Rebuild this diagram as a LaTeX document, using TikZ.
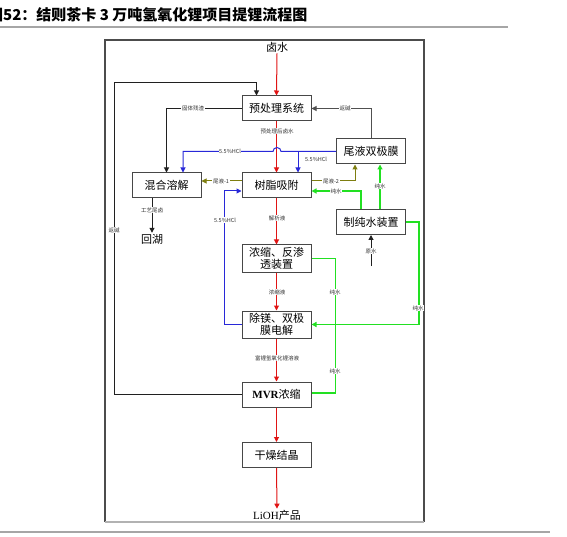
\documentclass[tikz,border=0pt]{standalone}
\usepackage{fontspec}
\setmainfont{Noto Sans CJK SC}
\newfontfamily\tnr{Liberation Serif}
\usetikzlibrary{arrows.meta}
\definecolor{cred}{HTML}{E01414}
\definecolor{cbl}{HTML}{2828D8}
\definecolor{cgr}{HTML}{22E022}
\definecolor{col}{HTML}{7E7E10}
\definecolor{cgy}{HTML}{505050}
\definecolor{cblk}{HTML}{202020}
\begin{document}
\begin{tikzpicture}[x=1pt,y=-1pt,
  box/.style={draw=black!72,line width=1pt,fill=white,minimum width=69pt,minimum height=25pt,
    font=\fontsize{11}{12.5}\selectfont,inner sep=1pt,align=center},
  txt/.style={font=\fontsize{11}{12}\selectfont,inner sep=1pt},
  lbl/.style={font=\fontsize{5.5}{6}\selectfont,fill=white,inner sep=0.6pt,text=black!80},
  arr/.style={line width=1pt,-{Triangle[length=5pt,width=5pt]}},
  garr/.style={line width=1.3pt,-{Triangle[length=5pt,width=5pt]}},
  ln/.style={line width=1.3pt}]
\useasboundingbox (0,0) rectangle (567,537);
% title and frame
\node[anchor=west,font=\bfseries\fontsize{15}{15}\selectfont,inner sep=0] (title) at (-12,15) {图52：结则茶卡 3 万吨氢氧化锂项目提锂流程图};
\draw[gray!70,line width=1.2pt] (0,27) -- (508,27);
\draw[black!70,line width=1.5pt] (105,522) -- (105,40) -- (424,40) -- (424,522);
\draw[black!30,line width=1.5pt] (105,522) -- (424,522);
\draw[gray!70,line width=1.2pt] (0,532) -- (550,532);
% nodes
\node[txt] (lu) at (277,47) {卤水};
\node[box] (pre) at (276.5,108.5) {预处理系统};
\node[box] (tail) at (371,151.5) {尾液双极膜};
\node[box] (mix) at (166.5,185.5) {混合溶解};
\node[box] (resin) at (276.5,185.5) {树脂吸附};
\node[box] (water) at (371,222) {制纯水装置};
\node[box,minimum height=27pt] (ro) at (276.5,258.5) {浓缩、反渗\\透装置};
\node[box,minimum height=27pt] (demg) at (276.5,324.5) {除镁、双极\\膜电解};
\node[box] (mvr) at (276.5,394.5) {{\tnr\bfseries MVR}浓缩};
\node[box] (dry) at (276.5,455) {干燥结晶};
\node[txt] (lioh) at (277,515) {{\tnr LiOH}产品};
\node[txt] (hu) at (152,239) {回湖};
\coordinate (raw) at (371,266);
\coordinate (hb) at (298,151.5);
% main red flow
\draw[arr,cred] (lu.south) -- (pre.north);
\draw[arr,cred] (pre.south) -- (resin.north);
\node[lbl] at (277,131) {预处理后卤水};
\draw[arr,cred] (resin.south) -- (ro.north);
\node[lbl] at (277,218) {解析液};
\draw[arr,cred] (ro.south) -- (demg.north);
\node[lbl] at (277,292) {浓缩液};
\draw[arr,cred] (demg.south) -- (mvr.north);
\node[lbl] at (277,358) {富锂氢氧化锂溶液};
\draw[arr,cred] (mvr.south) -- (dry.north);
\draw[arr,cred] (dry.south) -- (lioh.north);
% black loop (return alkali)
\draw[arr,cblk] (mvr.west) -| (114,83) -| ([xshift=-20pt]pre.north);
\node[lbl] at (114,230) {返碱};
% solid residue
\draw[arr,cblk] (pre.west) -| (mix.north);
\node[lbl] at (193,108.5) {固体残渣};
% tail -> pre
\draw[arr,cgy] (tail.north) |- (pre.east);
\node[lbl] at (345,108.5) {返碱};
% blue HCl line with hop
\draw[arr,cbl] (tail.west) -- (281,151.5) arc[start angle=0,end angle=180,radius=4pt] -| ([xshift=16.5pt]mix.north);
\node[lbl] at (230,151.5) {5.5\%HCl};
\draw[arr,cbl] (hb) -- ([xshift=21.5pt]resin.north);
\node[lbl,fill=none] at (316,159) {5.5\%HCl};
% olive tail liquids
\draw[arr,col] ([yshift=4.5pt]resin.west) -- ([yshift=4.5pt]mix.east);
\node[lbl] at (221,181) {尾液-1};
\draw[arr,col] ([yshift=4.5pt]resin.east) -| ([xshift=-16pt]tail.south);
\node[lbl] at (331,181) {尾液-2};
% pure water (green)
\draw[garr,cgr] ([xshift=-10pt]water.north) |- ([yshift=-5.5pt]resin.east);
\node[lbl] at (336,191) {纯水};
\draw[garr,cgr] ([xshift=9pt]water.north) -- ([xshift=9pt]tail.south);
\node[lbl] at (380,186) {纯水};
\draw[garr,cgr] (water.east) -- ++(13,0) |- (demg.east);
\node[lbl] at (418,308) {纯水};
\draw[ln,cgr] (ro.east) -- ++(24,0) |- ([yshift=1.5pt]mvr.east);
\node[lbl] at (335,292) {纯水};
\node[lbl] at (335,371) {纯水};
% raw water
\draw[arr,cblk] (raw) -- (water.south);
\node[lbl] at (371,251) {原水};
% blue HCl back to resin
\draw[arr,cbl] (demg.west) -- ++(-17,0) |- ([yshift=-5.5pt]resin.west);
\node[lbl] at (225,220) {5.5\%HCl};
% to lake
\draw[arr,cblk] ([xshift=-14.5pt]mix.south) -- (hu.north);
\node[lbl] at (152,210) {工艺尾卤};
\end{tikzpicture}
\end{document}
